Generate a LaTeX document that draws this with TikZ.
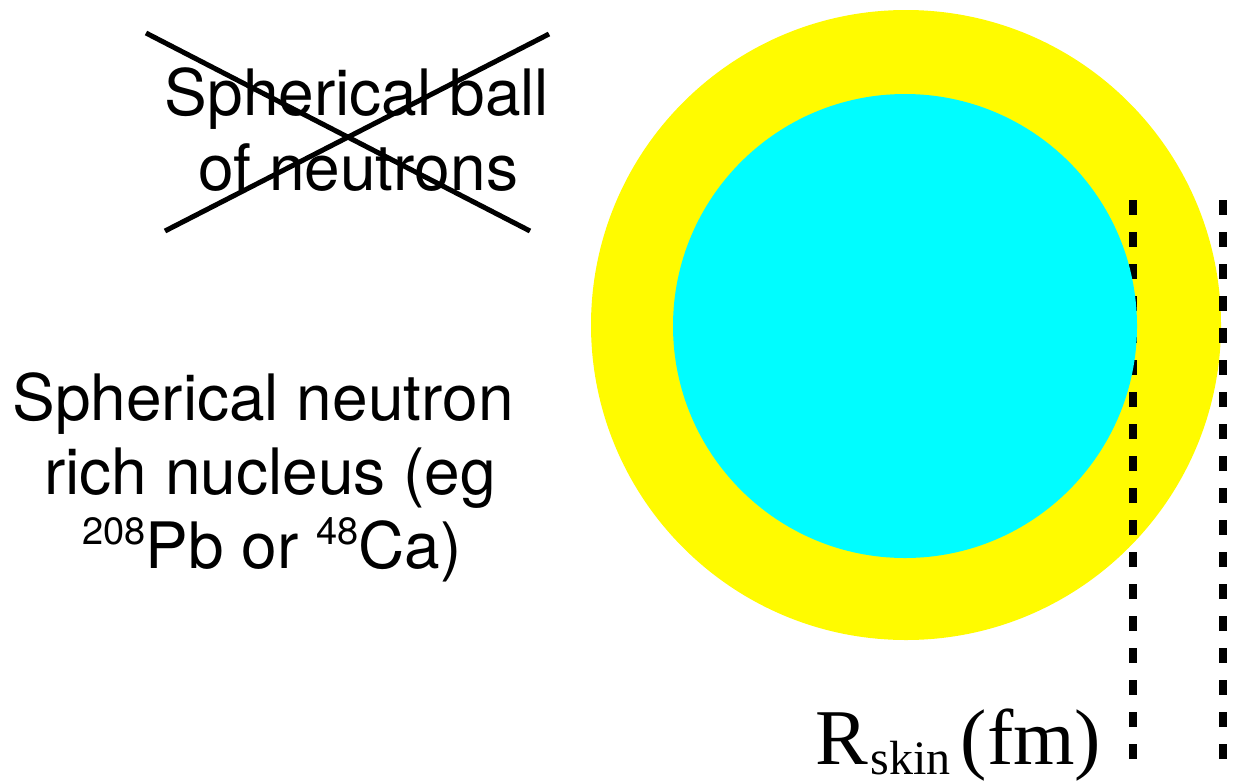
\documentclass[tikz,border=0pt]{standalone}
\usepackage{fontspec}
\usepackage{graphicx}
\setmainfont{TeX Gyre Heros}
\newfontfamily\timesfont{Liberation Serif}
\definecolor{skinyellow}{RGB}{255,251,0}
\definecolor{corecyan}{RGB}{0,253,255}
\tikzset{
  sanslabel/.style={inner sep=0pt, align=center, font=\fontsize{64}{75}\selectfont},
  crossline/.style={line width=5pt},
  skinline/.style={line width=7.5pt, dash pattern=on 15pt off 17pt},
}
\newcommand{\supnum}[1]{\raisebox{0.36em}{\fontsize{38}{38}\selectfont #1}}
\begin{document}
\begin{tikzpicture}[x=1pt,y=-1pt]
\useasboundingbox (0,0) rectangle (1244,782);
% outer nucleus (neutron skin)
\fill[skinyellow] (906,325) circle (315);
% dashed radius markers
\coordinate (la) at (1133,200);
\coordinate (lb) at (1133,760);
\coordinate (ra) at (1223,200);
\coordinate (rb) at (1223,760);
\draw[skinline] (la) -- (lb);
\draw[skinline] (ra) -- (rb);
% inner core
\fill[corecyan] (905,326) circle (232);
% crossed-out text
\node[sanslabel, anchor=base] (ball1) at (357,115) {Spherical ball};
\node[sanslabel, anchor=base] (ball2) at (358,190) {of neutrons};
\coordinate (c1) at (146,33);
\coordinate (c2) at (530,231);
\coordinate (c3) at (165,231);
\coordinate (c4) at (549,34);
\draw[crossline] (c1) -- (c2);
\draw[crossline] (c3) -- (c4);
% description
\node[sanslabel, anchor=base] (d1) at (263,420) {Spherical neutron};
\node[sanslabel, anchor=base] (d2) at (270,494) {rich nucleus (eg};
\node[sanslabel, anchor=base] (d3) at (272,568) {\supnum{208}Pb or \supnum{48}Ca)};
% R skin label
\node[inner sep=0pt, anchor=base west, font=\timesfont\fontsize{79}{79}\selectfont] (rskin) at (815,764)
  {R\kern3pt\raisebox{-10pt}{\fontsize{48}{48}\selectfont skin}\kern10pt(fm)};
\end{tikzpicture}
\end{document}
